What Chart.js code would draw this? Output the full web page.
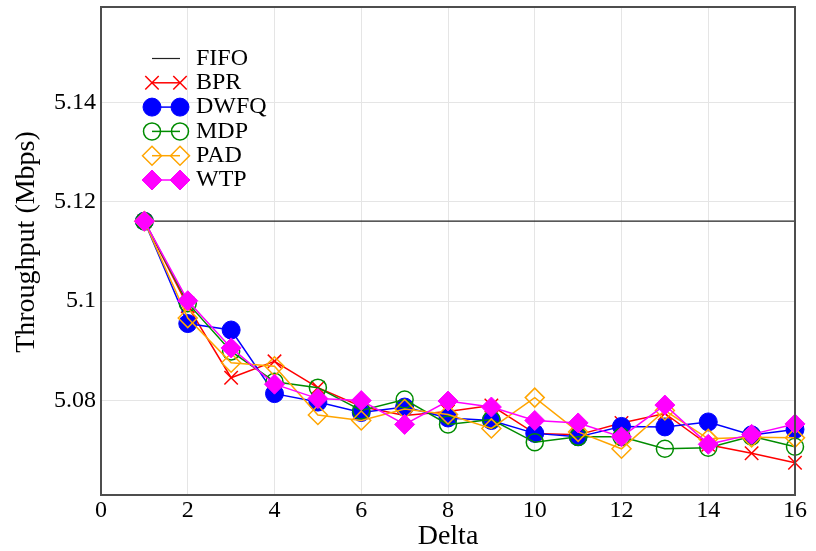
<!DOCTYPE html>
<html>
<head>
<meta charset="utf-8">
<script src="https://cdn.jsdelivr.net/npm/chart.js@4.4.1/dist/chart.umd.min.js"></script>
<style>
  body { margin: 0; background: #fff; }
  canvas { display: block; }
</style>
</head>
<body>
<canvas id="vazao" width="816" height="551"></canvas>
<script>
// throughput per scheduler vs delta
var deltas = [1, 2, 3, 4, 5, 6, 7, 8, 9, 10, 11, 12, 13, 14, 15, 16];
var fifo = [5.1161, 5.1161, 5.1161, 5.1161, 5.1161, 5.1161, 5.1161, 5.1161,
            5.1161, 5.1161, 5.1161, 5.1161, 5.1161, 5.1161, 5.1161, 5.1161];
var bpr  = [5.1161, 5.0990, 5.0846, 5.0879, 5.0826, 5.0788, 5.0770, 5.0778,
            5.0790, 5.0734, 5.0731, 5.0755, 5.0774, 5.0711, 5.0694, 5.0675];
var dwfq = [5.1161, 5.0955, 5.0942, 5.0814, 5.0797, 5.0776, 5.0787, 5.0765,
            5.0760, 5.0734, 5.0727, 5.0748, 5.0747, 5.0757, 5.0731, 5.0742];
var mdp  = [5.1161, 5.0996, 5.0899, 5.0838, 5.0826, 5.0780, 5.0802, 5.0752,
            5.0762, 5.0716, 5.0727, 5.0727, 5.0703, 5.0705, 5.0728, 5.0707];
var pad  = [5.1161, 5.0966, 5.0876, 5.0869, 5.0771, 5.0760, 5.0783, 5.0772,
            5.0744, 5.0806, 5.0737, 5.0703, 5.0780, 5.0723, 5.0726, 5.0725];
var wtp  = [5.1161, 5.1001, 5.0906, 5.0833, 5.0804, 5.0800, 5.0752, 5.0799,
            5.0787, 5.0760, 5.0755, 5.0727, 5.0791, 5.0712, 5.0732, 5.0753];
var yTicks = [5.08, 5.1, 5.12, 5.14];

var serif = "'Liberation Serif', 'Times New Roman', serif";

function pontos(valores) {
  return deltas.map(function(d, i) { return { x: d, y: valores[i] }; });
}

function serie(label, valores, cor, estilo, raio, cheio, ordem) {
  return {
    label: label,
    data: pontos(valores),
    borderColor: cor,
    borderWidth: 1.5,
    pointStyle: estilo,
    pointRadius: raio,
    pointBorderColor: cor,
    pointBackgroundColor: cheio ? cor : 'rgba(0,0,0,0)',
    pointBorderWidth: cheio ? 1 : 1.5,
    order: ordem,
    clip: false
  };
}

var datasets = [
  {
    label: 'FIFO',
    data: pontos(fifo),
    borderColor: '#222222',
    borderWidth: 1.2,
    pointRadius: 0,
    order: 6,
    clip: false
  },
  serie('BPR', bpr, '#ff0000', 'crossRot', 9.5, false, 5),
  serie('DWFQ', dwfq, '#0000ff', 'circle', 9, true, 4),
  serie('MDP', mdp, '#008c00', 'circle', 8.5, false, 3),
  serie('PAD', pad, '#ffa500', 'rectRot', 9.5, false, 2),
  serie('WTP', wtp, '#ff00ff', 'rectRot', 10, true, 1)
];

// frame over the markers, legend with line + two markers, rotated y title
var moldura = {
  id: 'moldura',
  afterDatasetsDraw: function(chart) {
    var ctx = chart.ctx;
    var a = chart.chartArea;
    ctx.save();
    ctx.strokeStyle = '#4d4d4d';
    ctx.lineWidth = 2;
    ctx.strokeRect(a.left, a.top, a.right - a.left, a.bottom - a.top);

    ctx.font = '24px ' + serif;
    ctx.textBaseline = 'middle';
    ctx.textAlign = 'left';
    chart.data.datasets.forEach(function(ds, i) {
      var y = 58.5 + i * 24.3;
      var x1 = 152, x2 = 180;
      ctx.strokeStyle = ds.borderColor;
      ctx.lineWidth = ds.borderWidth;
      ctx.beginPath();
      ctx.moveTo(x1, y);
      ctx.lineTo(x2, y);
      ctx.stroke();
      if (ds.pointRadius > 0) {
        [x1, x2].forEach(function(x) {
          ctx.fillStyle = ds.pointBackgroundColor;
          ctx.strokeStyle = ds.pointBorderColor;
          ctx.lineWidth = ds.pointBorderWidth;
          Chart.helpers.drawPoint(ctx, {
            pointStyle: ds.pointStyle,
            radius: ds.pointRadius,
            rotation: 0,
            borderWidth: ds.pointBorderWidth
          }, x, y);
        });
      }
      ctx.fillStyle = '#000';
      ctx.fillText(ds.label, 196, y);
    });

    ctx.translate(27, 242);
    ctx.rotate(-Math.PI / 2);
    ctx.textAlign = 'center';
    ctx.font = '28px ' + serif;
    ctx.fillText('Throughput (Mbps)', 0, 0);
    ctx.restore();
  }
};

var ctx = document.getElementById('vazao').getContext('2d');
var grafico = new Chart(ctx, {
  type: 'line',
  data: { datasets: datasets },
  plugins: [moldura],
  options: {
    responsive: false,
    animation: false,
    layout: {
      autoPadding: false,
      padding: { top: 7, right: 21, left: 0, bottom: 0 }
    },
    elements: { line: { tension: 0 } },
    plugins: {
      legend: { display: false },
      tooltip: { enabled: false }
    },
    scales: {
      x: {
        type: 'linear',
        min: 0,
        max: 16,
        ticks: {
          stepSize: 2,
          padding: 1,
          color: '#000',
          font: { family: serif, size: 24 }
        },
        grid: { color: '#e5e5e5', drawTicks: false },
        border: { display: false },
        title: {
          display: true,
          text: 'Delta',
          color: '#000',
          font: { family: serif, size: 28, lineHeight: 1 },
          padding: { top: 0, bottom: 0 }
        },
        afterFit: function(scale) {
          scale.height = 56;
          scale.paddingLeft = 0;
          scale.paddingRight = 0;
        }
      },
      y: {
        type: 'linear',
        min: 5.061,
        max: 5.1592,
        afterBuildTicks: function(scale) {
          scale.ticks = yTicks.map(function(v) { return { value: v }; });
        },
        ticks: {
          padding: 5,
          color: '#000',
          font: { family: serif, size: 24 },
          callback: function(v) { return String(v); }
        },
        grid: { color: '#e5e5e5', drawTicks: false },
        border: { display: false },
        afterFit: function(scale) {
          scale.width = 101;
          scale.paddingTop = 0;
          scale.paddingBottom = 0;
        }
      }
    }
  }
});
</script>
</body>
</html>
